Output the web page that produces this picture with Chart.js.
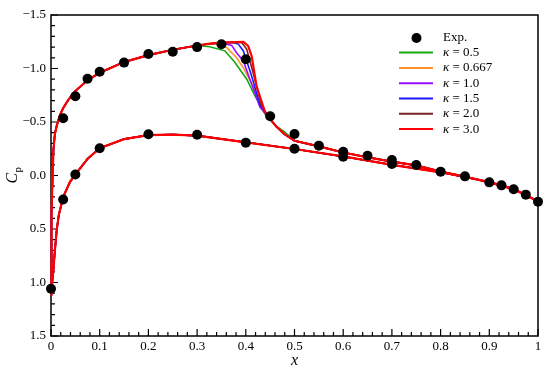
<!DOCTYPE html>
<html>
<head>
<meta charset="utf-8">
<script src="https://cdn.jsdelivr.net/npm/chart.js@4.4.0/dist/chart.umd.min.js"></script>
<style>
  html, body { margin: 0; padding: 0; background: #fff; }
  #wrap { width: 550px; height: 370px; }
</style>
</head>
<body>
<div id="wrap"><canvas id="cp-chart" width="550" height="370"></canvas></div>
<script>
// Experimental points (upper and lower surface)
const expUpperX = [0.025, 0.05, 0.075, 0.1, 0.15, 0.2, 0.25, 0.3, 0.35, 0.4, 0.45, 0.5, 0.55, 0.6, 0.65, 0.7, 0.75, 0.8, 0.85, 0.9, 0.925, 0.95, 0.975, 1.0];
const expUpperCp = [-0.535, -0.74, -0.905, -0.97, -1.055, -1.135, -1.157, -1.2, -1.226, -1.086, -0.553, -0.388, -0.279, -0.222, -0.185, -0.145, -0.098, -0.036, 0.008, 0.064, 0.092, 0.129, 0.179, 0.245];
const expLowerX = [0, 0.025, 0.05, 0.1, 0.2, 0.3, 0.4, 0.5, 0.6, 0.7];
const expLowerCp = [1.058, 0.225, -0.01, -0.254, -0.385, -0.381, -0.307, -0.25, -0.176, -0.107];

// Computed Cp, parts shared by every kappa
const lowerX = [0, 0.002, 0.005, 0.008, 0.012, 0.016, 0.025, 0.039, 0.05, 0.075, 0.1, 0.15, 0.2, 0.25, 0.3, 0.4, 0.5, 0.6, 0.7, 0.8, 0.9, 0.95, 1.0];
const lowerCp = [1.12, 1.02, 0.88, 0.7, 0.5, 0.37, 0.2, 0.06, -0.01, -0.155, -0.255, -0.34, -0.378, -0.382, -0.373, -0.31, -0.248, -0.178, -0.1, -0.03, 0.06, 0.125, 0.24];
const upperLeadX = [0, 0.001, 0.002, 0.003, 0.005, 0.008, 0.012, 0.018, 0.025, 0.036, 0.05, 0.075, 0.1, 0.15, 0.2, 0.25, 0.3];
const upperLeadCp = [1.12, 0.75, 0.35, 0.05, -0.24, -0.39, -0.47, -0.56, -0.63, -0.71, -0.79, -0.89, -0.96, -1.06, -1.125, -1.175, -1.215];
const upperAftX = [0.446, 0.463, 0.48, 0.5, 0.55, 0.6, 0.65, 0.7, 0.75, 0.8, 0.85, 0.9, 0.95, 1.0];
const upperAftCp = [-0.55, -0.455, -0.385, -0.325, -0.272, -0.215, -0.17, -0.13, -0.095, -0.036, 0.01, 0.064, 0.129, 0.24];

// Shock region for each kappa
const kappaLabels = ["0.5", "0.667", "1.0", "1.5", "2.0", "3.0"];
const kappaColors = ["#12a812", "#ff9426", "#9a10ff", "#1a1aff", "#7a2222", "#ff0000"];
const shockX = [
  [0.326, 0.357, 0.377, 0.402, 0.418, 0.44, 0.46, 0.48],
  [0.326, 0.345, 0.361, 0.381, 0.395, 0.415, 0.43, 0.446],
  [0.326, 0.35, 0.371, 0.381, 0.395, 0.412, 0.429, 0.446],
  [0.326, 0.35, 0.375, 0.385, 0.395, 0.412, 0.429, 0.446],
  [0.326, 0.35, 0.385, 0.392, 0.402, 0.415, 0.432, 0.446],
  [0.326, 0.35, 0.395, 0.405, 0.412, 0.422, 0.439, 0.446],
];
const shockCp = [
  [-1.204, -1.165, -1.06, -0.9, -0.75, -0.57, -0.47, -0.405],
  [-1.228, -1.232, -1.195, -1.1, -1.007, -0.836, -0.66, -0.55],
  [-1.232, -1.242, -1.216, -1.148, -1.07, -0.852, -0.64, -0.55],
  [-1.232, -1.242, -1.243, -1.226, -1.164, -0.93, -0.66, -0.55],
  [-1.232, -1.242, -1.246, -1.241, -1.18, -0.961, -0.66, -0.55],
  [-1.232, -1.242, -1.248, -1.21, -1.117, -0.836, -0.6, -0.55],
];

const FONT = "'Liberation Serif', 'Times New Roman', serif";

// Lower surface TE -> LE, then upper surface LE -> TE
function buildCurve(sx, sc) {
  const pts = [];
  for (let i = lowerX.length - 1; i >= 0; i--) pts.push({ x: lowerX[i], y: lowerCp[i] });
  for (let i = 1; i < upperLeadX.length; i++) pts.push({ x: upperLeadX[i], y: upperLeadCp[i] });
  sx.forEach((x, i) => pts.push({ x: x, y: sc[i] }));
  const last = sx[sx.length - 1];
  upperAftX.forEach((x, i) => {
    if (x > last) pts.push({ x: x, y: upperAftCp[i] });
  });
  return pts;
}

const expPoints = expUpperX.map((x, i) => ({ x: x, y: expUpperCp[i] }))
  .concat(expLowerX.map((x, i) => ({ x: x, y: expLowerCp[i] })));

const datasets = [
  {
    label: "Exp.",
    data: expPoints,
    showLine: false,
    pointRadius: 5,
    pointBackgroundColor: "#000",
    pointBorderColor: "#000",
    pointBorderWidth: 0,
    order: 0,
    clip: false,
  },
];
kappaLabels.forEach((k, i) => {
  datasets.push({
    label: k,
    data: buildCurve(shockX[i], shockCp[i]),
    showLine: true,
    borderColor: kappaColors[i],
    borderWidth: i === kappaLabels.length - 1 ? 2.2 : 1.6,
    pointRadius: 0,
    tension: 0,
    order: kappaLabels.length - i,
    clip: false,
  });
});

// Frame and inward tick marks
const framePlugin = {
  id: "frame",
  beforeDatasetsDraw(chart) {
    const { ctx, chartArea: a, scales } = chart;
    ctx.save();
    ctx.strokeStyle = "#000";
    ctx.lineWidth = 1.5;
    ctx.strokeRect(a.left, a.top, a.right - a.left, a.bottom - a.top);
    ctx.lineWidth = 1.2;
    ctx.beginPath();
    for (let i = 0; i <= 50; i++) {
      const px = scales.x.getPixelForValue(i / 50);
      const len = i % 5 === 0 ? 7 : 4;
      ctx.moveTo(px, a.bottom);
      ctx.lineTo(px, a.bottom - len);
    }
    for (let i = 0; i <= 30; i++) {
      const py = scales.y.getPixelForValue(-1.5 + i / 10);
      const len = i % 5 === 0 ? 7 : 4;
      ctx.moveTo(a.left, py);
      ctx.lineTo(a.left + len, py);
    }
    ctx.stroke();
    ctx.restore();
  },
};

// Axis titles and legend
const labelPlugin = {
  id: "labels",
  afterDraw(chart) {
    const { ctx, chartArea: a } = chart;
    ctx.save();
    ctx.fillStyle = "#000";

    // x title
    ctx.font = "italic 16px " + FONT;
    ctx.textAlign = "center";
    ctx.textBaseline = "middle";
    ctx.fillText("x", (a.left + a.right) / 2, 361);

    // y title, C with subscript p
    ctx.translate(12, (a.top + a.bottom) / 2);
    ctx.rotate(-Math.PI / 2);
    ctx.textAlign = "left";
    ctx.textBaseline = "alphabetic";
    ctx.font = "italic 16px " + FONT;
    const wC = ctx.measureText("C").width;
    ctx.font = "11px " + FONT;
    const wP = ctx.measureText("p").width;
    const start = -(wC + wP) / 2;
    ctx.font = "italic 16px " + FONT;
    ctx.fillText("C", start, 5);
    ctx.font = "11px " + FONT;
    ctx.fillText("p", start + wC + 0.5, 9);
    ctx.restore();

    // legend
    ctx.save();
    const lx = a.right - 139;
    const tx = lx + 44;
    let ly = a.top + 23;
    ctx.textBaseline = "middle";
    ctx.textAlign = "left";
    chart.data.datasets.forEach((ds, i) => {
      if (i === 0) {
        ctx.fillStyle = "#000";
        ctx.beginPath();
        ctx.arc(lx + 17.5, ly, 5, 0, Math.PI * 2);
        ctx.fill();
        ctx.font = "13px " + FONT;
        ctx.fillText(ds.label, tx, ly);
      } else {
        ctx.strokeStyle = ds.borderColor;
        ctx.lineWidth = 2;
        ctx.beginPath();
        ctx.moveTo(lx, ly);
        ctx.lineTo(lx + 34, ly);
        ctx.stroke();
        ctx.fillStyle = "#000";
        ctx.font = "italic 13px " + FONT;
        ctx.fillText("\u03ba", tx, ly);
        const w = ctx.measureText("\u03ba").width;
        ctx.font = "13px " + FONT;
        ctx.fillText(" = " + ds.label, tx + w, ly);
      }
      ly += i === 0 ? 14.6 : 15.3;
    });
    ctx.restore();
  },
};

const ctx = document.getElementById("cp-chart").getContext("2d");
const cpChart = new Chart(ctx, {
  type: "scatter",
  data: { datasets: datasets },
  options: {
    responsive: false,
    animation: false,
    layout: { padding: { left: 0, right: 12, top: 15, bottom: 0 } },
    plugins: {
      legend: { display: false },
      tooltip: { enabled: false },
    },
    scales: {
      x: {
        type: "linear",
        min: 0,
        max: 1,
        grid: { display: false, drawTicks: false },
        border: { display: false },
        ticks: {
          stepSize: 0.1,
          padding: 3,
          color: "#000",
          font: { family: FONT, size: 13 },
          callback: (v) => String(Number(v.toFixed(1))),
        },
        afterFit: (scale) => { scale.height = 34; },
      },
      y: {
        type: "linear",
        reverse: true,
        min: -1.5,
        max: 1.5,
        grid: { display: false, drawTicks: false },
        border: { display: false },
        ticks: {
          stepSize: 0.5,
          padding: 5,
          color: "#000",
          font: { family: FONT, size: 13 },
          callback: (v) => v.toFixed(1).replace("-", "\u2212"),
        },
        afterFit: (scale) => { scale.width = 51; },
      },
    },
  },
  plugins: [framePlugin, labelPlugin],
});
</script>
</body>
</html>
